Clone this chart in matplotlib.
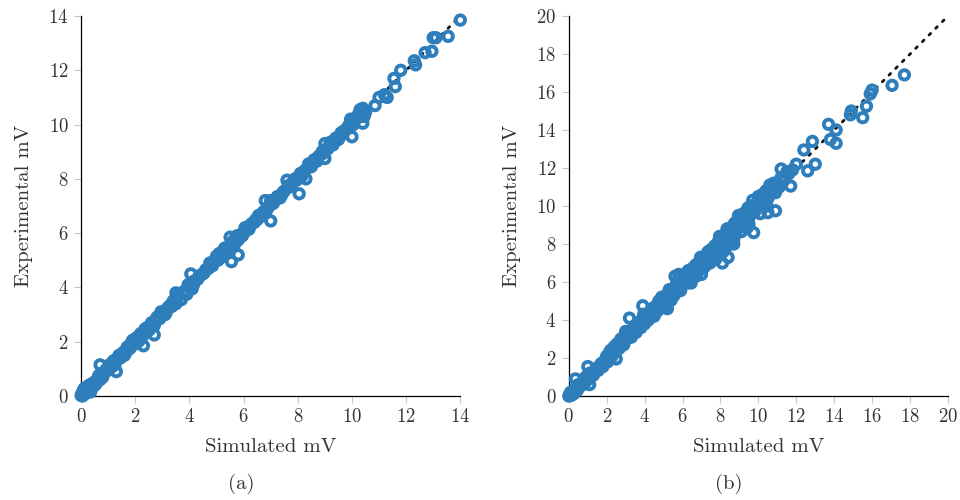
import numpy as np
import matplotlib
matplotlib.use("Agg")
import matplotlib.pyplot as plt

plt.rcParams["font.family"] = ["cmr10", "DejaVu Serif"]
plt.rcParams["axes.formatter.use_mathtext"] = True
plt.rcParams["mathtext.fontset"] = "cm"

# panel (a): simulated vs experimental voltage
sim_a = [0.00, 0.03, 0.05, 0.08, 0.10, 0.12, 0.15, 0.18, 0.20, 0.25, 0.28, 0.30, 0.35, 0.40,
         0.45, 0.50, 0.55, 0.60, 0.70, 0.75, 0.80, 0.90, 1.00, 1.05, 1.10, 1.20, 1.25, 1.35,
         1.45, 1.55, 1.60, 1.70, 1.80, 1.85, 1.95, 2.05, 2.10, 2.20, 2.30, 2.40, 2.50, 2.60,
         2.70, 2.80, 2.90, 3.00, 3.10, 3.20, 3.30, 3.40, 3.50, 3.60, 3.70, 3.80, 3.90, 4.00,
         4.10, 4.20, 4.30, 4.40, 4.50, 4.60, 4.70, 4.75, 4.85, 4.95, 5.05, 5.10, 5.20, 5.25,
         5.35, 5.45, 5.50, 5.55, 5.65, 5.70, 5.80, 5.90, 6.00, 6.10, 6.20, 6.30, 6.40, 6.50,
         6.60, 6.70, 6.80, 6.85, 6.95, 7.00, 7.10, 7.20, 7.30, 7.40, 7.50, 7.60, 7.70, 7.80,
         7.90, 8.00, 8.10, 8.25, 8.40, 8.50, 8.60, 8.70, 8.80, 8.90, 9.00, 9.10, 9.20, 9.30,
         9.40, 9.50, 9.60, 9.70, 9.85, 9.95, 10.05, 10.20, 10.30, 10.40, 10.45, 10.50,
         0.15, 0.35, 0.50, 0.65, 0.85, 1.15, 1.40, 1.65, 1.90, 2.15, 2.35, 2.55, 2.75, 2.95,
         3.15, 3.35, 3.55, 3.75, 3.95, 4.15, 4.35, 4.55, 4.80, 5.00, 5.15, 5.30, 5.45, 5.60,
         5.75, 5.95, 6.05, 6.25, 6.45, 6.55, 6.75, 6.90, 7.05, 7.25, 7.35, 7.45, 7.65, 7.75,
         7.95, 8.15, 8.35, 8.55, 8.75, 8.95, 9.15, 9.35, 9.55, 9.75, 9.90, 10.10, 10.25, 10.35,
         0.70, 1.30, 2.30, 2.70, 3.50, 4.05, 5.55, 5.80, 7.00, 8.05, 8.30, 9.00, 10.00,
         10.40, 10.85, 11.00, 11.20, 11.30, 11.60, 11.55, 11.80, 12.30, 12.35, 12.70, 12.95,
         13.00, 13.10, 13.55, 14.00]
exp_a = [0.02, 0.10, 0.00, 0.20, 0.05, 0.28, 0.10, 0.30, 0.12, 0.35, 0.20, 0.40, 0.25, 0.45,
         0.35, 0.52, 0.45, 0.62, 0.60, 0.80, 0.70, 0.95, 0.95, 1.15, 1.05, 1.30, 1.15, 1.40,
         1.40, 1.60, 1.50, 1.80, 1.75, 1.95, 1.90, 2.15, 2.00, 2.30, 2.25, 2.50, 2.42, 2.70,
         2.60, 2.90, 2.85, 3.05, 3.00, 3.25, 3.35, 3.50, 3.40, 3.70, 3.55, 3.85, 3.75, 4.05,
         3.95, 4.25, 4.30, 4.45, 4.50, 4.65, 4.70, 4.90, 4.80, 5.00, 5.00, 5.25, 5.15, 5.35,
         5.30, 5.50, 5.85, 5.60, 5.55, 5.80, 5.75, 5.95, 6.00, 6.10, 6.15, 6.35, 6.40, 6.50,
         6.60, 6.75, 7.20, 6.85, 7.00, 7.20, 7.10, 7.25, 7.30, 7.40, 7.55, 7.95, 7.70, 7.85,
         8.00, 8.05, 8.20, 8.30, 8.55, 8.45, 8.70, 8.65, 8.85, 9.00, 9.30, 9.10, 9.35, 9.25,
         9.50, 9.45, 9.70, 9.75, 9.90, 10.20, 10.00, 10.25, 10.55, 10.60, 10.30, 10.45,
         0.25, 0.15, 0.40, 0.75, 0.85, 1.20, 1.50, 1.60, 2.05, 2.05, 2.45, 2.60, 2.75, 3.10,
         3.10, 3.30, 3.60, 3.80, 4.10, 4.10, 4.40, 4.55, 4.90, 5.15, 5.10, 5.45, 5.35, 5.70,
         5.90, 5.90, 6.20, 6.30, 6.50, 6.65, 6.80, 6.95, 7.10, 7.35, 7.30, 7.50, 7.75, 7.80,
         7.95, 8.10, 8.40, 8.60, 8.80, 8.95, 9.20, 9.40, 9.55, 9.80, 10.00, 10.20, 10.40, 10.30,
         1.15, 0.90, 1.85, 2.25, 3.80, 4.50, 4.95, 5.20, 6.45, 7.45, 8.00, 8.75, 9.55,
         10.05, 10.70, 11.00, 11.10, 11.00, 11.40, 11.70, 12.00, 12.35, 12.20, 12.65, 12.70,
         13.20, 13.20, 13.25, 13.85]

# panel (b)
sim_b = [0.00, 0.05, 0.10, 0.15, 0.20, 0.25, 0.30, 0.40, 0.45, 0.55, 0.65, 0.75, 0.85, 0.95,
         1.05, 1.20, 1.30, 1.45, 1.55, 1.70, 1.80, 1.95, 2.05, 2.15, 2.25, 2.35, 2.45, 2.55,
         2.65, 2.80, 2.90, 3.00, 3.05, 3.20, 3.30, 3.45, 3.55, 3.70, 3.80, 3.90, 4.00, 4.10,
         4.20, 4.35, 4.45, 4.55, 4.65, 4.75, 4.85, 5.00, 5.10, 5.20, 5.25, 5.35, 5.45, 5.55,
         5.60, 5.65, 5.75, 5.85, 5.95, 6.05, 6.15, 6.25, 6.35, 6.45, 6.50, 6.60, 6.70, 6.80,
         6.90, 7.00, 7.10, 7.20, 7.30, 7.40, 7.50, 7.60, 7.70, 7.80, 7.90, 8.00, 8.10, 8.20,
         8.30, 8.40, 8.50, 8.60, 8.70, 8.80, 8.90, 9.00, 9.10, 9.25, 9.40, 9.50, 9.60, 9.70,
         9.80, 9.95, 10.10, 10.20, 10.30, 10.40, 10.50, 10.60, 10.75, 10.90, 11.00, 11.20,
         11.40, 11.60,
         0.10, 0.30, 0.50, 0.70, 0.90, 1.10, 1.35, 1.60, 1.85, 2.00, 2.20, 2.40, 2.60, 2.75,
         2.95, 3.10, 3.35, 3.60, 3.75, 3.95, 4.05, 4.25, 4.40, 4.60, 4.70, 4.90, 5.05, 5.15,
         5.30, 5.50, 5.70, 5.80, 5.90, 6.00, 6.20, 6.30, 6.40, 6.55, 6.65, 6.75, 6.85, 6.95,
         7.05, 7.15, 7.25, 7.35, 7.45, 7.55, 7.65, 7.75, 7.85, 7.95, 8.05, 8.15, 8.25, 8.35,
         8.45, 8.55, 8.65, 8.75, 8.85, 8.95, 9.05, 9.20, 9.30, 9.45, 9.55, 9.65, 9.85, 10.00,
         10.15, 10.35, 10.45, 10.65, 10.80, 11.10, 11.30, 11.50, 11.80,
         4.50, 5.00, 5.40, 5.90, 6.30, 6.70, 7.10, 7.50, 7.90, 8.30, 8.70, 9.10, 9.50,
         0.35, 1.00, 1.10, 2.50, 3.20, 3.90, 7.00, 8.10, 8.40, 8.70, 9.40, 9.75, 10.90, 10.50,
         11.70, 11.20, 12.00, 12.60, 13.00, 12.40, 12.85, 13.70, 14.10, 14.10, 13.80, 14.90,
         14.85, 15.50, 15.70, 15.90, 16.00, 17.05, 17.70]
exp_b = [0.00, 0.10, 0.02, 0.20, 0.08, 0.25, 0.15, 0.40, 0.30, 0.50, 0.55, 0.75, 0.70, 0.95,
         0.90, 1.20, 1.10, 1.45, 1.35, 1.70, 1.55, 1.95, 1.80, 2.30, 2.05, 2.45, 2.30, 2.75,
         2.50, 2.85, 2.70, 3.40, 3.00, 3.30, 3.10, 3.55, 3.35, 3.85, 3.60, 4.10, 3.80, 4.20,
         4.00, 4.50, 4.25, 4.70, 4.45, 5.00, 4.70, 5.10, 4.90, 4.60, 5.40, 5.15, 5.60, 5.30,
         6.30, 5.80, 5.55, 6.10, 5.80, 6.30, 6.00, 6.45, 6.10, 5.95, 6.70, 6.35, 6.90, 6.55,
         7.10, 6.75, 7.30, 7.00, 7.50, 7.20, 7.70, 7.35, 7.90, 7.55, 8.15, 7.75, 8.35, 7.95,
         8.60, 8.20, 8.80, 8.40, 9.00, 8.60, 9.25, 8.90, 9.40, 9.15, 9.70, 9.40, 10.00, 10.30,
         9.70, 10.00, 9.60, 10.60, 10.20, 10.80, 10.40, 11.10, 10.85, 10.70, 11.10, 11.50,
         11.40, 11.70,
         0.20, 0.35, 0.60, 0.60, 1.00, 1.20, 1.30, 1.55, 1.80, 2.10, 2.40, 2.60, 2.60, 3.00,
         3.20, 3.20, 3.50, 3.80, 3.70, 4.30, 4.00, 4.40, 4.60, 4.50, 4.85, 5.20, 4.80, 5.30,
         5.60, 5.50, 6.00, 6.40, 5.70, 6.10, 6.30, 6.60, 6.20, 6.55, 6.80, 6.40, 7.00, 7.30,
         7.00, 6.80, 7.30, 7.60, 7.00, 7.50, 7.80, 7.20, 7.80, 8.40, 8.00, 7.60, 8.30, 8.80,
         8.50, 8.10, 8.70, 9.10, 8.80, 9.50, 9.00, 9.60, 9.30, 9.90, 9.50, 9.70, 10.10, 10.50,
         10.20, 10.60, 10.00, 10.70, 11.20, 11.00, 11.30, 11.80, 11.90,
         4.20, 4.65, 5.05, 5.55, 5.95, 6.30, 6.75, 7.10, 7.50, 7.85, 8.25, 8.65, 9.05,
         0.90, 1.55, 0.60, 1.95, 4.10, 4.75, 6.40, 7.00, 7.30, 8.00, 8.85, 8.60, 9.75, 9.65,
         11.05, 11.95, 12.20, 11.85, 12.20, 12.95, 13.40, 14.30, 14.00, 13.30, 13.50, 15.00,
         14.80, 14.65, 15.25, 15.90, 16.10, 16.35, 16.90]

ticks_a = [0, 2, 4, 6, 8, 10, 12, 14]
ticks_b = [0, 2, 4, 6, 8, 10, 12, 14, 16, 18, 20]

blue = "#2e7ebc"
txt = "#333333"

fig = plt.figure(figsize=(9.6, 5.0), dpi=100)
ax1 = fig.add_axes([0.0845, 0.208, 0.395, 0.760])
ax2 = fig.add_axes([0.5925, 0.208, 0.395, 0.760])

def draw(ax, sim, exp, ticks, line_end):
    lim = ticks[-1]
    ax.plot([0, line_end], [0, line_end], color="#111111", lw=2.0,
            linestyle=(0, (0.8, 2.6)), dash_capstyle="round", zorder=1)
    ax.scatter(sim, exp, s=46, facecolors="none", edgecolors=blue,
               linewidths=2.8, zorder=3, clip_on=False)
    ax.set_xlim(0, lim)
    ax.set_ylim(0, lim)
    ax.set_xticks(ticks)
    ax.set_yticks(ticks)
    ax.spines["top"].set_visible(False)
    ax.spines["right"].set_visible(False)
    for s in ("left", "bottom"):
        ax.spines[s].set_linewidth(0.9)
    ax.tick_params(direction="out", length=5, width=0.8, color="#c8c8c8",
                   labelcolor=txt, labelsize=13.5, pad=4)
    ax.set_xlabel("Simulated mV", fontsize=15, color=txt, labelpad=8)
    ax.set_ylabel("Experimental mV", fontsize=15, color=txt, labelpad=11)

draw(ax1, sim_a, exp_a, ticks_a, 14)
draw(ax2, sim_b, exp_b, ticks_b, 19.8)

fig.text(0.251, 0.032, "(a)", ha="center", va="center", fontsize=15, color=txt)
fig.text(0.759, 0.032, "(b)", ha="center", va="center", fontsize=15, color=txt)

fig.savefig("out.png", dpi=100)
